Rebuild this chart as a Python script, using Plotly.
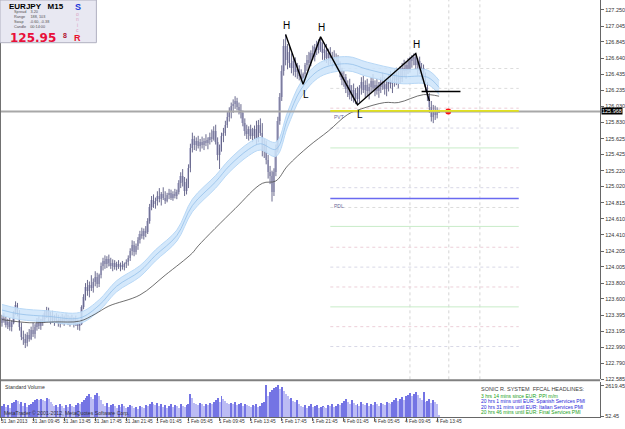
import plotly.graph_objects as go

# ---------------- data ----------------
opens = [123.30,123.36,123.33,123.27,123.31,123.24,123.30,123.42,123.52,123.42,123.25,123.12,123.10,123.05,123.15,123.10,123.21,123.16,123.25,123.30,
123.26,123.32,123.35,123.42,123.45,123.36,123.40,123.33,123.37,123.34,123.30,123.35,123.32,123.36,123.33,123.31,123.34,123.30,123.33,123.29,
123.26,123.28,123.50,123.62,123.75,123.70,123.78,123.74,123.82,123.88,123.79,123.90,124.02,124.08,124.04,124.10,124.06,124.02,124.05,124.00,
124.04,124.01,124.03,124.00,124.04,124.07,124.12,124.20,124.28,124.19,124.27,124.35,124.42,124.40,124.46,124.44,124.58,124.76,124.85,124.80,
124.84,124.90,124.86,124.92,124.88,124.84,124.91,124.94,124.88,124.93,124.90,124.95,125.06,125.15,125.08,124.96,125.05,125.25,125.50,125.62,
125.55,125.60,125.53,125.58,125.54,125.60,125.57,125.61,125.65,125.62,125.72,125.58,125.42,125.50,125.66,125.70,125.80,125.90,125.96,126.04,
126.06,126.10,126.02,125.98,125.95,125.82,125.72,125.68,125.74,125.66,125.70,125.75,125.62,125.80,125.70,125.48,125.56,125.36,125.20,125.15,
124.95,125.20,125.48,125.85,126.15,126.48,126.80,126.62,126.72,126.58,126.52,126.60,126.46,126.50,126.42,126.38,126.44,126.55,126.62,126.58,
126.70,126.66,126.78,126.74,126.84,126.76,126.70,126.74,126.64,126.70,126.60,126.66,126.58,126.62,126.52,126.45,126.36,126.40,126.25,126.30,
126.18,126.24,126.14,126.20,126.12,126.26,126.34,126.24,126.30,126.22,126.28,126.35,126.26,126.30,126.22,126.28,126.34,126.30,126.25,126.32,
126.38,126.32,126.36,126.44,126.36,126.42,126.38,126.52,126.48,126.55,126.50,126.60,126.63,126.66,126.56,126.60,126.48,126.52,126.38,126.28,
126.16,126.02,125.90,125.98,125.92,125.96]
highs = [123.40,123.42,123.38,123.35,123.36,123.33,123.45,123.57,123.55,123.46,123.30,123.20,123.16,123.18,123.22,123.25,123.30,123.28,123.36,123.38,
123.35,123.40,123.46,123.50,123.49,123.44,123.45,123.40,123.42,123.40,123.38,123.41,123.39,123.42,123.40,123.38,123.40,123.37,123.39,123.34,
123.31,123.52,123.66,123.80,123.84,123.82,123.90,123.86,123.95,123.93,123.92,124.06,124.12,124.15,124.14,124.16,124.12,124.10,124.09,124.07,
124.09,124.06,124.08,124.06,124.10,124.15,124.24,124.34,124.33,124.30,124.38,124.46,124.50,124.49,124.52,124.62,124.80,124.90,124.92,124.88,
124.96,125.00,124.95,125.01,124.96,124.94,124.99,124.98,124.96,124.99,124.98,125.10,125.20,125.24,125.14,125.12,125.30,125.56,125.70,125.66,
125.64,125.66,125.62,125.65,125.63,125.68,125.64,125.70,125.74,125.78,125.80,125.64,125.55,125.70,125.76,125.85,125.96,126.02,126.08,126.12,
126.16,126.14,126.08,126.06,125.98,125.88,125.80,125.78,125.80,125.76,125.79,125.85,125.86,125.88,125.82,125.62,125.60,125.42,125.28,125.22,
125.25,125.55,125.90,126.20,126.55,126.88,126.94,126.82,126.78,126.70,126.66,126.65,126.58,126.55,126.50,126.46,126.58,126.68,126.72,126.74,
126.80,126.82,126.86,126.88,126.91,126.84,126.80,126.82,126.76,126.78,126.72,126.74,126.70,126.68,126.60,126.52,126.48,126.44,126.36,126.38,
126.30,126.32,126.26,126.28,126.30,126.40,126.42,126.36,126.38,126.32,126.40,126.44,126.36,126.38,126.34,126.40,126.46,126.40,126.38,126.44,
126.48,126.42,126.50,126.52,126.48,126.54,126.58,126.62,126.60,126.64,126.66,126.68,126.70,126.70,126.64,126.66,126.58,126.56,126.46,126.34,
126.20,126.10,126.05,126.04,126.02,125.99]
lows = [123.25,123.30,123.24,123.22,123.20,123.19,123.28,123.40,123.38,123.20,123.08,123.02,122.98,123.00,123.06,123.08,123.12,123.10,123.20,123.22,
123.21,123.26,123.30,123.36,123.32,123.28,123.30,123.26,123.30,123.25,123.24,123.28,123.26,123.30,123.27,123.25,123.28,123.24,123.26,123.21,
123.20,123.27,123.47,123.58,123.64,123.62,123.70,123.68,123.76,123.74,123.75,123.86,123.96,123.98,123.99,124.01,123.98,123.95,123.97,123.96,
123.98,123.95,123.97,123.96,123.99,124.02,124.08,124.15,124.14,124.16,124.22,124.30,124.36,124.35,124.38,124.42,124.55,124.72,124.75,124.74,
124.78,124.82,124.78,124.85,124.80,124.82,124.86,124.85,124.84,124.87,124.86,124.92,125.00,125.02,124.90,124.92,125.00,125.20,125.45,125.48,
125.47,125.50,125.46,125.50,125.48,125.53,125.49,125.55,125.58,125.60,125.55,125.35,125.24,125.46,125.58,125.66,125.76,125.84,125.88,125.95,
126.00,125.98,125.93,125.88,125.78,125.66,125.62,125.60,125.62,125.58,125.62,125.55,125.58,125.66,125.40,125.38,125.30,125.12,125.05,124.83,
124.90,125.15,125.45,125.80,126.10,126.42,126.55,126.50,126.52,126.45,126.42,126.40,126.38,126.36,126.34,126.31,126.40,126.48,126.52,126.54,
126.62,126.60,126.68,126.70,126.72,126.62,126.60,126.58,126.55,126.56,126.52,126.54,126.50,126.48,126.40,126.30,126.28,126.20,126.15,126.12,
126.10,126.08,126.06,126.05,126.08,126.18,126.20,126.14,126.16,126.12,126.20,126.22,126.16,126.18,126.14,126.20,126.24,126.18,126.16,126.22,
126.26,126.20,126.28,126.30,126.26,126.32,126.34,126.40,126.38,126.44,126.46,126.52,126.55,126.50,126.42,126.44,126.36,126.32,126.22,126.10,
125.95,125.84,125.82,125.86,125.88,125.95]
closes = opens[1:] + [125.968]

volumes = [870,1044,783,957,696,1131,1218,1392, 1305,1044,1218,870,1131,783,957,1044,
1218,1392,1479,1392,1479,1392,1305,1566,1479,1218,1044,
870,957,783,1044,870,696,957,783,1044,870,783,957,
1131,1044,1218,1392,
1566,1740,1914,1653,1479,1827,2001,1740,1392,
1044,870,1131,783,957,1044,870,696,957,783,1044,870,696,783,957,
870,696,783,609,870,783,696,957,870,1044,
1218,1044,957,1131,
870,1044,783,957,696,870,1044,783,957,870,696,1044,870,783,957,1044,
1914,1566,1131,
1044,957,1131,1044,870,1044,957,1131,1044,1218,
1392,1566,1218,1740,1479,1305,1131,1044,
1131,1044,1218,957,1044,1131,870,1044,957,870,
783,957,870,1044,783,870,1131,1218,
2619,1740,2088,2262,2436,
2523,2610,2349,2523,2175,1914,
1740,1479,1566,1305,1218,1392,
1044,870,783,957,696,870,1044,783,870,957,696,783,870,
783,696,957,870,1044,783,870,1044,957,1131,
1305,1479,1218,1044,1392,
1131,957,1044,870,1218,1044,957,1131,870,1044,957,1218,1044,870,1131,1044,957,1218,1131,1044,
1218,1392,1566,1305,1479,1653,1392,1740,
1827,2001,1740,1914,2088,1827,
1566,1392,2088,1218,1305,1479,1131,1392,1218,1044,
174]

# moving averages (bar index, price)
ma_x = [0,14,27,40,48,55,71,84,98,101,120,134,141,147,158,168,178,185,197,204,217,225]
ma_slow = [123.34,123.30,123.31,123.32,123.41,123.51,123.65,123.90,124.18,124.27,124.74,125.06,125.09,125.28,125.53,125.72,125.93,126.00,126.08,126.08,126.18,126.16]
band_x = [0,9,24,40,50,59,71,79,90,98,110,117,127,133,141,147,154,164,178,188,205,219,225]
band_mid = [123.46,123.41,123.38,123.36,123.52,123.76,123.95,124.15,124.40,124.78,125.08,125.28,125.49,125.56,125.49,125.87,126.25,126.50,126.57,126.50,126.41,126.40,126.27]
band_hi = [123.53,123.48,123.45,123.43,123.59,123.83,124.02,124.22,124.47,124.86,125.16,125.36,125.57,125.64,125.58,125.96,126.34,126.59,126.66,126.59,126.50,126.49,126.36]
band_lo = [123.39,123.34,123.31,123.29,123.45,123.69,123.88,124.08,124.33,124.70,125.00,125.20,125.41,125.48,125.40,125.77,126.15,126.41,126.48,126.41,126.32,126.31,126.18]

zz_x = [146,155,164,183,213,220]
zz_y = [126.94,126.31,126.91,126.05,126.70,126.10]
zz_lbl = ["H","L","H","L","H",""]
neck_x = [216,236]
neck_y = [126.22,126.22]

bid = 125.968
pivot_start, pivot_end = 169, 266
pvt_level = 125.975
pdl_level = 124.867
levels = [126.259,126.510,126.009,125.758,125.507,125.256,125.005,124.755,124.516,124.253,124.002,123.751,123.500,123.250,122.999]
level_cols = ["#dcdcdc","#dcdcdc","#eccfd8","#d8d8e6","#c8ecc8","#eccfd8","#d8d8e6","#dcdcdc","#c8ecc8","#eccfd8","#d8d8e6","#eccfd8","#c8ecc8","#eccfd8","#d8d8e6"]
level_dash = ["dot","dot","dot","dot","solid","dot","dot","dot","solid","dot","dot","dot","solid","dot","dot"]
session_lines = [210,230,246]
red_dot_x = [229.7]

yticks = [127.250,127.045,126.845,126.640,126.435,126.235,126.030,125.830,125.625,125.425,125.220,125.020,
          124.815,124.610,124.410,124.205,124.005,123.800,123.600,123.395,123.195,122.990,122.790,122.585]
xtick_idx = [0,16,32,48,64,80,96,112,128,144,160,176,192,208,224]
xtick_text = ["31 Jan 2013","31 Jan 09:45","31 Jan 13:45","31 Jan 17:45","31 Jan 21:45","1 Feb 01:45","1 Feb 05:45",
              "1 Feb 09:45","1 Feb 13:45","1 Feb 17:45","1 Feb 21:45","4 Feb 01:45","4 Feb 05:45","4 Feb 09:45","4 Feb 13:45"]
vol_ticks = [2619.45, 52.45]

# ---------------- layout helpers ----------------
W, H = 625, 429
def fx(p): return p / W
def fy(p): return 1 - p / H
FONT = "Liberation Sans, Arial, sans-serif"
idx = list(range(len(opens)))

fig = go.Figure()

# dragon band
fig.add_trace(go.Scatter(x=band_x, y=band_lo, mode="lines", line=dict(color="#b8d8f6", width=1, shape="spline"),
                         hoverinfo="skip", showlegend=False))
fig.add_trace(go.Scatter(x=band_x, y=band_hi, mode="lines", line=dict(color="#b8d8f6", width=1, shape="spline"),
                         fill="tonexty", fillcolor="rgba(204,228,250,0.85)", hoverinfo="skip", showlegend=False))
fig.add_trace(go.Scatter(x=band_x, y=band_mid, mode="lines", line=dict(color="#94c0ea", width=0.8, shape="spline"),
                         hoverinfo="skip", showlegend=False))
# slow MA
fig.add_trace(go.Scatter(x=ma_x, y=ma_slow, mode="lines", line=dict(color="#4a4a4a", width=0.8, shape="spline"),
                         hoverinfo="skip", showlegend=False))
# candle bodies
body_base = [min(o, c) for o, c in zip(opens, closes)]
body_h = [max(abs(c - o), 0.01) for o, c in zip(opens, closes)]
fig.add_trace(go.Bar(x=idx, y=body_h, base=body_base, width=1.0, marker=dict(color="#c9c9de", line=dict(width=0)),
                     hoverinfo="skip", showlegend=False))
# wicks
fig.add_trace(go.Ohlc(x=idx, open=opens, high=highs, low=lows, close=closes, tickwidth=0,
                      increasing=dict(line=dict(color="#5a5a82", width=0.9)),
                      decreasing=dict(line=dict(color="#5a5a82", width=0.9)),
                      hoverinfo="skip", showlegend=False))
# zigzag
fig.add_trace(go.Scatter(x=zz_x, y=zz_y, mode="lines", line=dict(color="#000000", width=1.4),
                         hoverinfo="skip", showlegend=False))
fig.add_trace(go.Scatter(x=neck_x, y=neck_y, mode="lines", line=dict(color="#000000", width=1.4),
                         hoverinfo="skip", showlegend=False))
# red dot
fig.add_trace(go.Scatter(x=red_dot_x, y=[bid], mode="markers", marker=dict(color="#ff1010", size=6),
                         hoverinfo="skip", showlegend=False))
# volume
vcol = ["#7474e4"] + ["#bcbcf4" if volumes[i] < volumes[i - 1] else "#7474e4" for i in range(1, len(volumes))]
fig.add_trace(go.Bar(x=idx, y=volumes, width=0.5, marker=dict(color=vcol, line=dict(width=0)),
                     xaxis="x2", yaxis="y2", hoverinfo="skip", showlegend=False))

shapes = []
for lv, col, ds in zip(levels, level_cols, level_dash):
    shapes.append(dict(type="line", xref="x", yref="y", x0=pivot_start, x1=pivot_end, y0=lv, y1=lv,
                       line=dict(color=col, width=1, dash=ds), layer="below"))
shapes.append(dict(type="line", xref="x", yref="y", x0=pivot_start, x1=pivot_end, y0=pdl_level, y1=pdl_level,
                   line=dict(color="#6a6af0", width=1.5), layer="below"))
for s in session_lines:
    shapes.append(dict(type="line", xref="x", yref="paper", x0=s, x1=s, y0=fy(382), y1=fy(0),
                       line=dict(color="#d4d4d4", width=1, dash="dot"), layer="below"))
shapes.append(dict(type="line", xref="paper", yref="y", x0=0, x1=fx(604), y0=bid, y1=bid,
                   line=dict(color="#a8a8a8", width=2)))
shapes.append(dict(type="line", xref="x", yref="y", x0=pivot_start, x1=pivot_end, y0=pvt_level, y1=pvt_level,
                   line=dict(color="#e2e21e", width=1.6)))
shapes.append(dict(type="line", xref="paper", yref="paper", x0=0, x1=fx(604), y0=fy(383), y1=fy(383),
                   line=dict(color="#808080", width=2)))
shapes.append(dict(type="line", xref="paper", yref="paper", x0=fx(0.5), x1=fx(0.5), y0=fy(420), y1=fy(42),
                   line=dict(color="#707070", width=1)))
shapes.append(dict(type="rect", xref="paper", yref="paper", x0=fx(0), x1=fx(97), y0=fy(43), y1=fy(0),
                   fillcolor="#e8e8f2", line=dict(color="#b0b0c0", width=1)))

ann = []
def txt(x, y, t, size=6, color="#333333", anchor="left", bold=False, yanchor="middle", family=FONT):
    ann.append(dict(x=fx(x), y=fy(y), xref="paper", yref="paper", text=("<b>%s</b>" % t) if bold else t,
                    showarrow=False, xanchor=anchor, yanchor=yanchor, borderpad=0,
                    font=dict(family=family, size=size, color=color)))

for i, t in zip(xtick_idx, xtick_text):
    ann.append(dict(x=i, y=fy(424.5), xref="x2", yref="paper", text=t, showarrow=False, xanchor="left",
                    xshift=-2, yanchor="middle", borderpad=0, font=dict(family=FONT, size=4.8, color="#333333")))
for x, y, l in zip(zz_x, zz_y, zz_lbl):
    if l:
        ann.append(dict(x=x, y=y, xref="x", yref="y", text=l, showarrow=False,
                        yshift=9 if l == "H" else -10, xshift=1 if l == "H" else 3,
                        font=dict(family=FONT, size=10, color="#000000")))
ann.append(dict(x=pivot_start, y=pvt_level, xref="x", yref="y", text="PVT", showarrow=False, xanchor="left",
                yanchor="top", xshift=2, yshift=-1, font=dict(family=FONT, size=5, color="#6a6a9a")))
ann.append(dict(x=pivot_start, y=pdl_level, xref="x", yref="y", text="PDL", showarrow=False, xanchor="left",
                yanchor="top", xshift=2, yshift=-2, font=dict(family=FONT, size=5, color="#6a6a9a")))
ann.append(dict(x=fx(605), y=bid, xref="paper", yref="y", text="125.968", showarrow=False, xanchor="left",
                bgcolor="#000000", borderpad=0, font=dict(family=FONT, size=5.5, color="#ffffff")))
# info box
txt(8, 7, "EURJPY   M15", size=8, color="#000000", bold=True)
txt(78, 7, "S", size=9, color="#2036d8", bold=True, anchor="center")
ann.append(dict(x=fx(13), y=fy(9.5), xref="paper", yref="paper", showarrow=False, xanchor="left", yanchor="top",
                align="left", borderpad=0,
                text="Spread    3.20<br>Range     188, 103<br>Swap      -0.60, -0.38<br>Candle    00:14:00",
                font=dict(family=FONT, size=3.8, color="#505050")))
for yy, ch in zip([14, 19.5, 25, 30.5], ["o", "n", "i", "c"]):
    txt(78, yy, ch, size=5, color="#d8a0c4", anchor="center")
txt(78, 38, "R", size=9, color="#e8102e", bold=True, anchor="center")
txt(9, 38.5, "125.95", size=12, color="#e8103a", bold=True, family="DejaVu Sans, Verdana, sans-serif")
txt(62, 35.5, "8", size=7, color="#b01030", bold=True)
# volume pane texts
txt(4, 390, "Standard Volume", size=5.2, color="#333333")
txt(3, 416, "MetaTrader © 2001-2012, MetaQuotes Software Corp.", size=5.2, color="#333333")
txt(483, 392, "SONIC R. SYSTEM  FFCAL HEADLINES:", size=5.5, color="#404040")
txt(483, 398.5, "3 hrs 14 mins since EUR: PPI m/m", size=5, color="#20a020")
txt(483, 404, "20 hrs 1 mins until EUR: Spanish Services PMI", size=5, color="#2424d8")
txt(483, 409.5, "20 hrs 31 mins until EUR: Italian Services PMI", size=5, color="#2424d8")
txt(483, 415, "20 hrs 46 mins until EUR: Final Services PMI", size=5, color="#20a020")

XR = [-1.02, 307.9]
fig.update_layout(
    width=W, height=H, margin=dict(l=0, r=0, t=0, b=0),
    paper_bgcolor="#ffffff", plot_bgcolor="#ffffff",
    showlegend=False, bargap=0, barmode="overlay",
    font=dict(family=FONT, size=6, color="#333333"),
    xaxis=dict(domain=[0, fx(604)], range=XR, showticklabels=False, showgrid=False, zeroline=False,
               showline=False, rangeslider=dict(visible=False), anchor="y"),
    yaxis=dict(domain=[fy(382), 1], range=[122.585, 127.375], side="right", anchor="x",
               tickvals=yticks, ticktext=["%.3f" % v for v in yticks], ticks="outside", ticklen=3,
               tickcolor="#666666", tickfont=dict(size=5.5, color="#333333"), showgrid=False,
               zeroline=False, showline=True, linecolor="#666666", linewidth=1),
    xaxis2=dict(domain=[0, fx(604)], range=XR, matches="x", anchor="y2", tickvals=xtick_idx, ticks="outside",
                ticklen=3, tickcolor="#666666", showticklabels=False, showgrid=False, zeroline=False,
                showline=True, linecolor="#666666", linewidth=1, rangeslider=dict(visible=False)),
    yaxis2=dict(domain=[fy(420), fy(385)], range=[0, 2900], side="right", anchor="x2",
                tickvals=vol_ticks, ticktext=["2619.45", "52.45"], ticks="outside", ticklen=3,
                tickcolor="#666666", tickfont=dict(size=5.5, color="#333333"), showgrid=False,
                zeroline=False, showline=True, linecolor="#666666", linewidth=1),
    shapes=shapes, annotations=ann,
)

fig.write_html("out.html")
